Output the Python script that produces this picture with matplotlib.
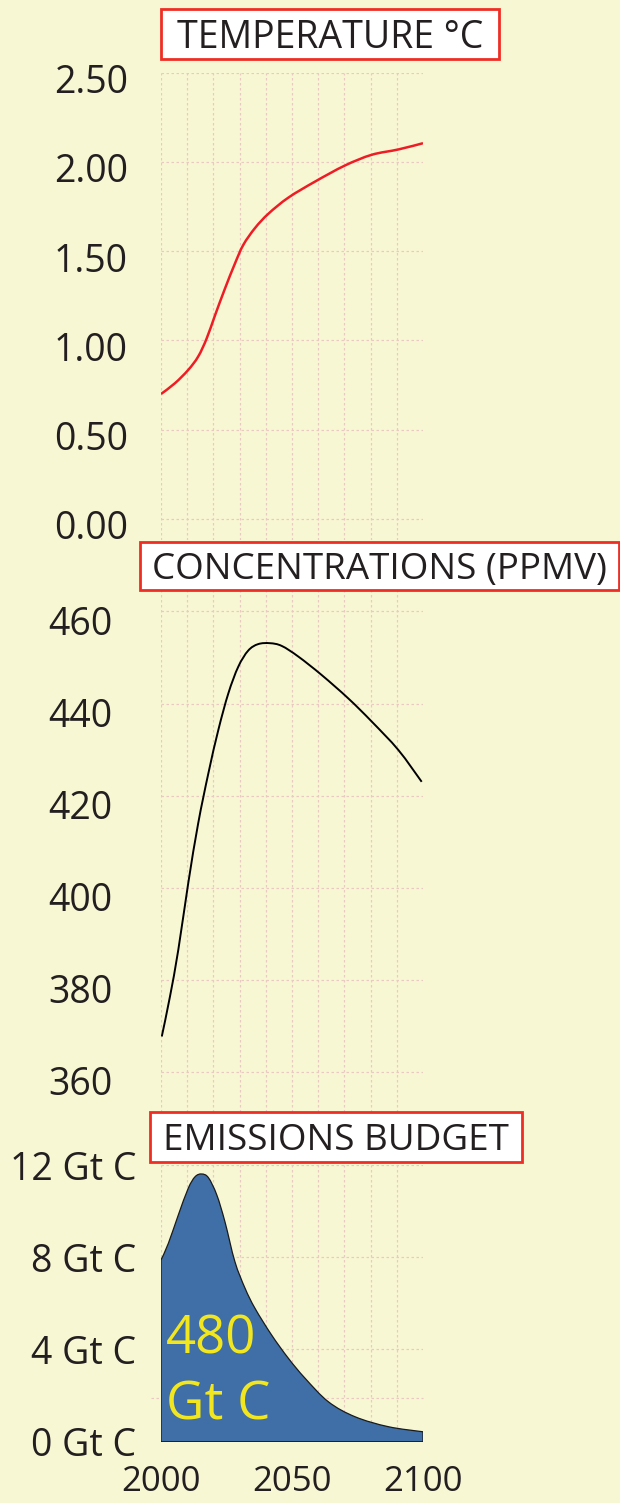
import matplotlib
matplotlib.use("Agg")
import matplotlib.pyplot as plt
from matplotlib.patches import Rectangle, PathPatch
from matplotlib.path import Path
from matplotlib.transforms import ScaledTranslation

# ---------------- data ----------------
temp_years = [2000, 2005.3, 2010.4, 2014.2, 2017.4, 2020.6, 2024.4, 2028.2, 2031.4,
              2035.9, 2041, 2048.6, 2058.8, 2070.2, 2080.4, 2090.6, 2100]
temp_values = [0.70, 0.76, 0.835, 0.91, 1.01, 1.14, 1.29, 1.43, 1.535,
               1.63, 1.71, 1.80, 1.89, 1.98, 2.04, 2.07, 2.105]

conc_years = [2000.3, 2003.4, 2006.6, 2010.4, 2014.2, 2018.1, 2021.9, 2025.7, 2029.5,
              2033.3, 2037.1, 2041.6, 2046.1, 2052.4, 2061.3, 2071.5, 2080.4, 2090.6, 2099.5]
conc_values = [367.7, 376.3, 386.5, 401.0, 414.0, 424.9, 434.3, 442.2, 448.0,
               451.5, 452.9, 453.1, 452.5, 450.2, 446.2, 441.1, 436.1, 429.9, 423.0]

emis_years = [2000, 2002.8, 2006.6, 2010.4, 2013, 2015.5, 2018.1, 2021.3, 2024.4, 2028.2,
              2032.1, 2035.9, 2042.2, 2048.6, 2055, 2063.9, 2074.1, 2086.8, 2100]
emis_values = [7.88, 8.60, 9.83, 10.99, 11.49, 11.61, 11.45, 10.70, 9.54, 7.81,
               6.65, 5.78, 4.63, 3.62, 2.75, 1.73, 1.08, 0.65, 0.43]

temp_ticks = [0.0, 0.5, 1.0, 1.5, 2.0, 2.5]
conc_ticks = [360, 380, 400, 420, 440, 460]
emis_ticks = [0, 4, 8, 12]
emis_tick_labels = ["0 Gt C", "4 Gt C", "8 Gt C", "12 Gt C"]
year_ticks = [2000, 2050, 2100]
grid_years = list(range(2000, 2100, 10))

titles = ["TEMPERATURE °C", "CONCENTRATIONS (PPMV)", "EMISSIONS BUDGET"]
budget_label = ["480", "Gt C"]

# ---------------- style ----------------
W, H, DPI = 620, 1503, 100
BG = "#F8F7D4"
GRID = "#EBC9C3"
TXT = "#231F20"
plt.rcParams["font.family"] = ["Open Sans", "DejaVu Sans"]

fig = plt.figure(figsize=(W / DPI, H / DPI), dpi=DPI, facecolor=BG)


def fx(px):
    return px / W


def fy(py):
    return 1 - py / H


def smooth_segments(xs, ys):
    """Smoothed-line (Catmull-Rom as cubic Bezier) path pieces through the data points."""
    pts = list(zip(xs, ys))
    verts = [pts[0]]
    codes = []
    n = len(pts)
    for i in range(n - 1):
        p0 = pts[i - 1] if i > 0 else pts[i]
        p1 = pts[i]
        p2 = pts[i + 1]
        p3 = pts[i + 2] if i + 2 < n else pts[i + 1]
        c1 = (p1[0] + (p2[0] - p0[0]) / 6, p1[1] + (p2[1] - p0[1]) / 6)
        c2 = (p2[0] - (p3[0] - p1[0]) / 6, p2[1] - (p3[1] - p1[1]) / 6)
        verts += [c1, c2, p2]
        codes += [Path.CURVE4] * 3
    return verts, codes


def smooth_line(ax, xs, ys, **kw):
    verts, codes = smooth_segments(xs, ys)
    path = Path(verts, [Path.MOVETO] + codes)
    ax.add_patch(PathPatch(path, facecolor="none", **kw))


def smooth_area(ax, xs, ys, **kw):
    verts, codes = smooth_segments(xs, ys)
    allv = [(xs[0], 0)] + verts + [(xs[-1], 0), (xs[0], 0)]
    allc = [Path.MOVETO, Path.LINETO] + codes + [Path.LINETO, Path.CLOSEPOLY]
    ax.add_patch(PathPatch(Path(allv, allc), **kw))


X0, X1 = 161, 423


def make_ax(top_px, bottom_px):
    ax = fig.add_axes([fx(X0), fy(bottom_px), (X1 - X0) / W, (bottom_px - top_px) / H])
    ax.set_facecolor("none")
    for s in ax.spines.values():
        s.set_visible(False)
    ax.set_xlim(2000, 2100)
    ax.set_xticks(year_ticks)
    ax.set_xticks(grid_years, minor=True)
    ax.xaxis.remove_overlapping_locs = False
    ax.grid(axis="x", which="minor", color=GRID, linestyle=(0, (2, 2)), linewidth=0.9)
    ax.grid(axis="y", which="major", color=GRID, linestyle=(0, (2, 2)), linewidth=0.9)
    ax.tick_params(which="both", length=0)
    ax.tick_params(axis="x", labelbottom=False)
    ax.set_axisbelow(True)
    return ax


def shift_ylabels(ax, dy_px):
    off = ScaledTranslation(0, -dy_px / DPI, fig.dpi_scale_trans)
    for lab in ax.get_yticklabels():
        lab.set_transform(lab.get_transform() + off)


LBL = 27

# ---- temperature ----
ax1 = make_ax(72.7, 540)
ax1.set_ylim(-0.118, 2.5)
ax1.set_yticks(temp_ticks)
ax1.set_yticklabels([f"{v:.2f}" for v in temp_ticks])
ax1.tick_params(axis="y", labelsize=LBL, labelcolor=TXT, pad=24)
smooth_line(ax1, temp_years, temp_values, edgecolor="#EE1C24", linewidth=1.8)
shift_ylabels(ax1, 6)

# ---- concentrations ----
ax2 = make_ax(590, 1112)
ax2.set_ylim(351.3, 464.65)
ax2.set_yticks(conc_ticks)
ax2.set_yticklabels([str(v) for v in conc_ticks])
ax2.tick_params(axis="y", labelsize=LBL, labelcolor=TXT, pad=35)
smooth_line(ax2, conc_years, conc_values, edgecolor="black", linewidth=1.4)
shift_ylabels(ax2, 9)

# ---- emissions ----
ax3 = make_ax(1165, 1441.7)
ax3.set_ylim(0, 12)
ax3.set_yticks(emis_ticks)
ax3.set_yticklabels(emis_tick_labels)
ax3.tick_params(axis="y", labelsize=LBL, labelcolor=TXT, pad=18)
ax3.tick_params(axis="x", labelbottom=True, labelsize=25, labelcolor=TXT, pad=17)
ax3.axhline(1.9, xmin=-0.04, xmax=1.0, color=GRID, linestyle=(0, (2, 2)),
            linewidth=0.9, clip_on=False, zorder=0.5)
smooth_area(ax3, emis_years, emis_values, facecolor="#3F6FA6",
            edgecolor="#1A1A1A", linewidth=0.9, zorder=2)

# budget label (yellow, inside the filled area)
fig.text(fx(166), fy(1353), budget_label[0], color="#F2E61E", fontsize=38,
         ha="left", va="baseline", zorder=5)
fig.text(fx(166), fy(1420), budget_label[1], color="#F2E61E", fontsize=38,
         ha="left", va="baseline", zorder=5)

# ---------------- title boxes ----------------
boxes = [
    (161, 9, 499, 59, 27),
    (140, 542, 619, 590, 26.5),
    (150, 1112, 522, 1162, 26.5),
]
for (x0, y0, x1, y1, fs), title in zip(boxes, titles):
    rect = Rectangle((fx(x0), fy(y1)), (x1 - x0) / W, (y1 - y0) / H,
                     transform=fig.transFigure, facecolor="white",
                     edgecolor="#EE2E24", linewidth=2.0, zorder=10)
    fig.patches.append(rect)
    fig.text(fx((x0 + x1) / 2), fy((y0 + y1) / 2), title, fontsize=fs, color=TXT,
             ha="center", va="center_baseline", zorder=11)

fig.savefig("out.png", dpi=DPI, facecolor=BG)
